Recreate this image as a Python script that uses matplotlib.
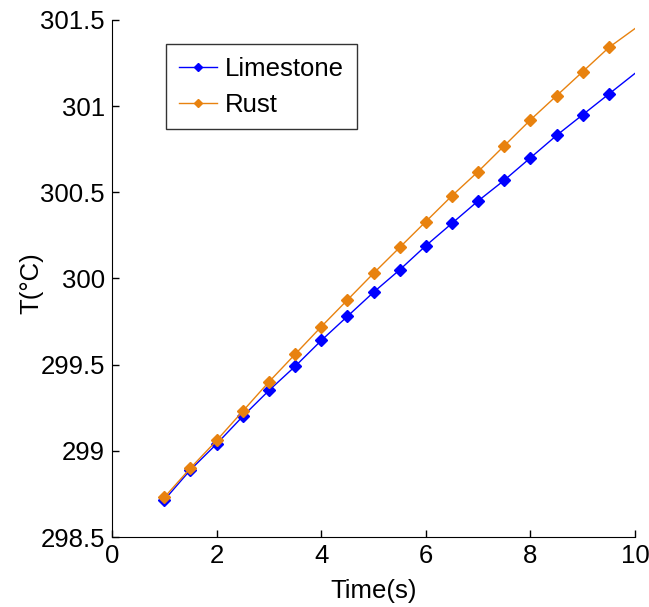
import matplotlib
matplotlib.use("Agg")
import matplotlib.pyplot as plt
import numpy as np

plt.rcParams['font.family'] = ['Liberation Sans', 'DejaVu Sans']

time = [1, 1.5, 2, 2.5, 3, 3.5, 4, 4.5, 5, 5.5, 6, 6.5, 7, 7.5, 8, 8.5, 9, 9.5, 10]
limestone = [298.715, 298.89, 299.04, 299.20, 299.35, 299.49, 299.64, 299.78, 299.92,
             300.05, 300.19, 300.32, 300.45, 300.57, 300.70, 300.83, 300.95, 301.07, 301.19]
rust = [298.73, 298.90, 299.06, 299.23, 299.40, 299.56, 299.72, 299.875, 300.03,
        300.18, 300.33, 300.48, 300.62, 300.77, 300.92, 301.06, 301.20, 301.34, 301.45]

FS = 18.5
fig = plt.figure(figsize=(6.49, 6.07), dpi=100)
ax = fig.add_axes([0.1726, 0.1153, 0.806, 0.852])

mk = list(range(len(time) - 1))
ax.plot(time, limestone, color='#0000FF', lw=1, marker='D', ms=6, markevery=mk, label='Limestone')
ax.plot(time, rust, color='#E8820F', lw=1, marker='D', ms=6, markevery=mk, label='Rust')

ax.set_xlim(0, 10)
ax.set_ylim(298.5, 301.5)
ax.set_xticks([0, 2, 4, 6, 8, 10])
ax.set_yticks([298.5, 299, 299.5, 300, 300.5, 301, 301.5])
ax.set_yticklabels(['298.5', '299', '299.5', '300', '300.5', '301', '301.5'])
ax.spines['top'].set_visible(False)
ax.spines['right'].set_visible(False)
ax.tick_params(direction='in', labelsize=FS, length=5, width=1, pad=5)
ax.set_xlabel('Time(s)', fontsize=FS, labelpad=8)
ax.set_ylabel('T(°C)', fontsize=FS)
ax.yaxis.set_label_coords(-0.132, 0.49)

leg = ax.legend(loc='upper left', bbox_to_anchor=(0.103, 0.953), fontsize=FS, frameon=True,
                fancybox=False, edgecolor='black', handlelength=1.5, handletextpad=0.3,
                borderpad=0.5, labelspacing=0.45, borderaxespad=0)
leg.get_frame().set_linewidth(1)
for h in leg.legend_handles:
    h.set_markersize(4)

fig.savefig('out.png', dpi=100)
